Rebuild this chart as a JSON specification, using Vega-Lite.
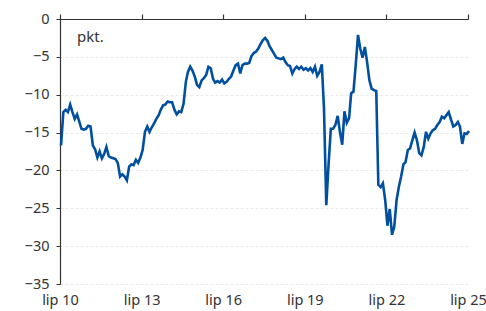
{
  "$schema": "https://vega.github.io/schema/vega-lite/v6.json",
  "width": 408,
  "height": 265,
  "autosize": {"type": "none"},
  "padding": {"left": 60, "top": 19, "right": 18, "bottom": 27},
  "config": {
    "view": {"stroke": null},
    "font": "Noto Sans",
    "axis": {"labelFont": "Noto Sans", "labelFontSize": 14.5, "labelColor": "#333333", "domainColor": "#333333", "tickColor": "#333333"}
  },
  "data": {"values": [
    {"d":"2010-07-15","v":-16.7},{"d":"2010-08-15","v":-12.3},{"d":"2010-09-15","v":-12.0},{"d":"2010-10-15","v":-12.3},{"d":"2010-11-15","v":-11.3},{"d":"2010-12-15","v":-12.3},
    {"d":"2011-01-15","v":-13.2},{"d":"2011-02-15","v":-12.6},{"d":"2011-03-15","v":-13.5},{"d":"2011-04-15","v":-14.5},{"d":"2011-05-15","v":-14.6},{"d":"2011-06-15","v":-14.5},
    {"d":"2011-07-15","v":-14.1},{"d":"2011-08-15","v":-14.2},{"d":"2011-09-15","v":-16.7},{"d":"2011-10-15","v":-17.2},{"d":"2011-11-15","v":-18.3},{"d":"2011-12-15","v":-17.5},
    {"d":"2012-01-15","v":-18.4},{"d":"2012-02-15","v":-17.8},{"d":"2012-03-15","v":-16.9},{"d":"2012-04-15","v":-18.1},{"d":"2012-05-15","v":-18.3},{"d":"2012-06-15","v":-18.4},
    {"d":"2012-07-15","v":-18.5},{"d":"2012-08-15","v":-19.0},{"d":"2012-09-15","v":-20.8},{"d":"2012-10-15","v":-20.5},{"d":"2012-11-15","v":-20.8},{"d":"2012-12-15","v":-21.3},
    {"d":"2013-01-15","v":-19.5},{"d":"2013-02-15","v":-19.2},{"d":"2013-03-15","v":-19.3},{"d":"2013-04-15","v":-18.6},{"d":"2013-05-15","v":-19.0},{"d":"2013-06-15","v":-18.3},
    {"d":"2013-07-15","v":-17.3},{"d":"2013-08-15","v":-14.9},{"d":"2013-09-15","v":-14.2},{"d":"2013-10-15","v":-14.9},{"d":"2013-11-15","v":-14.3},{"d":"2013-12-15","v":-13.8},
    {"d":"2014-01-15","v":-13.2},{"d":"2014-02-15","v":-12.7},{"d":"2014-03-15","v":-12.0},{"d":"2014-04-15","v":-11.4},{"d":"2014-05-15","v":-11.3},{"d":"2014-06-15","v":-10.9},
    {"d":"2014-07-15","v":-11.0},{"d":"2014-08-15","v":-11.0},{"d":"2014-09-15","v":-12.0},{"d":"2014-10-15","v":-12.6},{"d":"2014-11-15","v":-12.2},{"d":"2014-12-15","v":-12.3},
    {"d":"2015-01-15","v":-11.2},{"d":"2015-02-15","v":-8.3},{"d":"2015-03-15","v":-7.0},{"d":"2015-04-15","v":-6.3},{"d":"2015-05-15","v":-6.8},{"d":"2015-06-15","v":-7.6},
    {"d":"2015-07-15","v":-8.7},{"d":"2015-08-15","v":-9.0},{"d":"2015-09-15","v":-8.1},{"d":"2015-10-15","v":-7.8},{"d":"2015-11-15","v":-7.4},{"d":"2015-12-15","v":-6.3},
    {"d":"2016-01-15","v":-6.5},{"d":"2016-02-15","v":-7.9},{"d":"2016-03-15","v":-8.4},{"d":"2016-04-15","v":-8.2},{"d":"2016-05-15","v":-8.4},{"d":"2016-06-15","v":-8.0},
    {"d":"2016-07-15","v":-8.5},{"d":"2016-08-15","v":-8.3},{"d":"2016-09-15","v":-7.9},{"d":"2016-10-15","v":-7.6},{"d":"2016-11-15","v":-6.8},{"d":"2016-12-15","v":-6.1},
    {"d":"2017-01-15","v":-5.9},{"d":"2017-02-15","v":-7.2},{"d":"2017-03-15","v":-6.1},{"d":"2017-04-15","v":-5.9},{"d":"2017-05-15","v":-5.9},{"d":"2017-06-15","v":-5.8},
    {"d":"2017-07-15","v":-4.9},{"d":"2017-08-15","v":-4.5},{"d":"2017-09-15","v":-4.3},{"d":"2017-10-15","v":-3.9},{"d":"2017-11-15","v":-3.3},{"d":"2017-12-15","v":-2.8},
    {"d":"2018-01-15","v":-2.5},{"d":"2018-02-15","v":-2.9},{"d":"2018-03-15","v":-3.6},{"d":"2018-04-15","v":-4.1},{"d":"2018-05-15","v":-4.6},{"d":"2018-06-15","v":-5.1},
    {"d":"2018-07-15","v":-5.2},{"d":"2018-08-15","v":-5.3},{"d":"2018-09-15","v":-5.1},{"d":"2018-10-15","v":-5.7},{"d":"2018-11-15","v":-6.1},{"d":"2018-12-15","v":-6.2},
    {"d":"2019-01-15","v":-7.2},{"d":"2019-02-15","v":-6.6},{"d":"2019-03-15","v":-6.3},{"d":"2019-04-15","v":-6.6},{"d":"2019-05-15","v":-6.3},{"d":"2019-06-15","v":-6.7},
    {"d":"2019-07-15","v":-6.5},{"d":"2019-08-15","v":-6.8},{"d":"2019-09-15","v":-6.5},{"d":"2019-10-15","v":-7.0},{"d":"2019-11-15","v":-6.3},{"d":"2019-12-15","v":-7.5},
    {"d":"2020-01-15","v":-7.0},{"d":"2020-02-15","v":-6.0},{"d":"2020-03-15","v":-11.8},{"d":"2020-04-15","v":-24.6},{"d":"2020-05-15","v":-19.3},{"d":"2020-06-15","v":-14.5},
    {"d":"2020-07-15","v":-14.5},{"d":"2020-08-15","v":-14.0},{"d":"2020-09-15","v":-12.8},{"d":"2020-10-15","v":-14.9},{"d":"2020-11-15","v":-16.6},{"d":"2020-12-15","v":-12.2},
    {"d":"2021-01-15","v":-13.7},{"d":"2021-02-15","v":-13.1},{"d":"2021-03-15","v":-9.8},{"d":"2021-04-15","v":-9.6},{"d":"2021-05-15","v":-6.1},{"d":"2021-06-15","v":-2.1},
    {"d":"2021-07-15","v":-3.9},{"d":"2021-08-15","v":-5.1},{"d":"2021-09-15","v":-3.7},{"d":"2021-10-15","v":-5.7},{"d":"2021-11-15","v":-8.1},{"d":"2021-12-15","v":-9.2},
    {"d":"2022-01-15","v":-9.4},{"d":"2022-02-15","v":-9.5},{"d":"2022-03-15","v":-21.9},{"d":"2022-04-15","v":-22.2},{"d":"2022-05-15","v":-21.7},{"d":"2022-06-15","v":-23.9},
    {"d":"2022-07-15","v":-27.3},{"d":"2022-08-15","v":-25.1},{"d":"2022-09-15","v":-28.5},{"d":"2022-10-15","v":-27.4},{"d":"2022-11-15","v":-23.9},{"d":"2022-12-15","v":-22.2},
    {"d":"2023-01-15","v":-20.8},{"d":"2023-02-15","v":-19.2},{"d":"2023-03-15","v":-18.9},{"d":"2023-04-15","v":-17.3},{"d":"2023-05-15","v":-17.1},{"d":"2023-06-15","v":-16.0},
    {"d":"2023-07-15","v":-15.0},{"d":"2023-08-15","v":-16.0},{"d":"2023-09-15","v":-17.7},{"d":"2023-10-15","v":-18.0},{"d":"2023-11-15","v":-16.9},{"d":"2023-12-15","v":-14.9},
    {"d":"2024-01-15","v":-15.8},{"d":"2024-02-15","v":-15.1},{"d":"2024-03-15","v":-14.7},{"d":"2024-04-15","v":-14.5},{"d":"2024-05-15","v":-14.0},{"d":"2024-06-15","v":-13.6},
    {"d":"2024-07-15","v":-12.9},{"d":"2024-08-15","v":-13.1},{"d":"2024-09-15","v":-12.7},{"d":"2024-10-15","v":-12.3},{"d":"2024-11-15","v":-13.3},{"d":"2024-12-15","v":-14.2},
    {"d":"2025-01-15","v":-14.0},{"d":"2025-02-15","v":-13.6},{"d":"2025-03-15","v":-14.2},{"d":"2025-04-15","v":-16.5},{"d":"2025-05-15","v":-15.1},{"d":"2025-06-15","v":-15.2},
    {"d":"2025-07-15","v":-14.8}
  ]},
  "layer": [
    {
      "mark": {"type": "line", "color": "#00509f", "strokeWidth": 2.6, "clip": false},
      "encoding": {
        "x": {
          "field": "d", "type": "temporal",
          "scale": {"domain": [{"year": 2010, "month": 7, "date": 1, "utc": true}, {"year": 2025, "month": 7, "date": 1, "utc": true}]},
          "axis": {
            "orient": "bottom", "title": null, "domain": false, "ticks": false, "grid": false,
            "labelPadding": 9, "labelFlush": false, "labelOverlap": false, "labelBound": false,
            "values": [
              {"year": 2010, "month": 7, "date": 1, "utc": true},
              {"year": 2013, "month": 7, "date": 1, "utc": true},
              {"year": 2016, "month": 7, "date": 1, "utc": true},
              {"year": 2019, "month": 7, "date": 1, "utc": true},
              {"year": 2022, "month": 7, "date": 1, "utc": true},
              {"year": 2025, "month": 7, "date": 1, "utc": true}
            ],
            "labelExpr": "'lip ' + utcFormat(datum.value, '%y')"
          }
        },
        "y": {
          "field": "v", "type": "quantitative",
          "scale": {"domain": [-35, 0], "nice": false},
          "axis": {
            "title": null, "values": [0, -5, -10, -15, -20, -25, -30, -35],
            "labelOverlap": false, "labelFlush": false, "labelBound": false,
            "tickSize": 4, "labelPadding": 7, "domain": true, "domainWidth": 1.2,
            "grid": true, "gridColor": "#e4e4e4", "gridDash": [3, 2], "gridWidth": 0.8
          }
        }
      }
    },
    {
      "data": {"values": [{"d": "2011-02-15", "v": -2.4, "t": "pkt."}]},
      "mark": {"type": "text", "align": "left", "baseline": "middle", "fontSize": 15, "color": "#333333", "font": "Noto Sans"},
      "encoding": {
        "x": {
          "field": "d", "type": "temporal",
          "axis": {
            "orient": "top", "title": null, "labels": false, "grid": false,
            "tickSize": 5, "domainWidth": 1.2, "tickWidth": 1.2,
            "values": [
              {"year": 2010, "month": 7, "date": 1, "utc": true},
              {"year": 2013, "month": 7, "date": 1, "utc": true},
              {"year": 2016, "month": 7, "date": 1, "utc": true},
              {"year": 2019, "month": 7, "date": 1, "utc": true},
              {"year": 2022, "month": 7, "date": 1, "utc": true},
              {"year": 2025, "month": 7, "date": 1, "utc": true}
            ]
          }
        },
        "y": {
          "field": "v", "type": "quantitative",
          "axis": {
            "title": null, "values": [0, -5, -10, -15, -20, -25, -30, -35],
            "labelOverlap": false, "labelFlush": false, "labelBound": false,
            "tickSize": 4, "labelPadding": 7, "domain": true, "domainWidth": 1.2,
            "grid": true, "gridColor": "#e4e4e4", "gridDash": [3, 2], "gridWidth": 0.8
          }
        },
        "text": {"field": "t"}
      }
    }
  ],
  "resolve": {"axis": {"x": "independent"}}
}
